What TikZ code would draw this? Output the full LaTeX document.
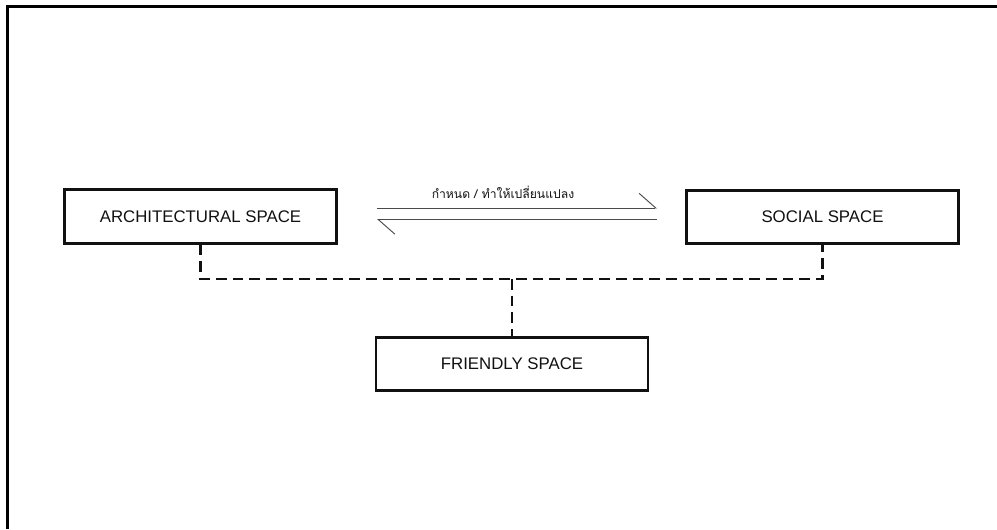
\documentclass[tikz,border=0pt]{standalone}
\usepackage{fontspec}
\setmainfont{Liberation Sans}
\newfontfamily\thaifont[Script=Thai]{Loma}
\usetikzlibrary{arrows.meta,positioning}
\definecolor{ink}{HTML}{111111}
\definecolor{inksoft}{HTML}{4A4A4A}

\begin{document}
\begin{tikzpicture}[
    x=0.75pt,y=-0.75pt,
    % --- boxes ---------------------------------------------------------
    spacebox/.style={rectangle,draw=ink,line width=2.2pt,fill=white,
                     minimum width=204pt,minimum height=40pt,inner sep=0pt,
                     font=\fontsize{12.6}{14}\selectfont,text=ink},
    % --- connectors ----------------------------------------------------
    link/.style={draw=ink,line width=2.2pt,dash pattern=on 8pt off 4.5pt},
    flow/.style={draw=inksoft,line width=0.7pt,
                 -{Straight Barb[left,length=12.5pt,width=22pt,line width=0.7pt]}},
    frame/.style={draw=black,line width=2.4pt},
  ]

\useasboundingbox (0,0) rectangle (997,529);

% =====================================================================
%  Frame (top and left only)
% =====================================================================
\draw[frame] (7.5,529) -- (7.5,6.5) -- (997,6.5);

% =====================================================================
%  Space boxes
% =====================================================================
\node[spacebox] (arch) at (200.5,216.5) {ARCHITECTURAL SPACE};
\node[spacebox] (social) at (822.5,217) {SOCIAL SPACE};
\node[spacebox] (friendly) at (512,364) {FRIENDLY SPACE};

% ---- two-way relation -----------------------------------------------
\coordinate (fwdA) at (377,208);
\coordinate (fwdB) at (657,208);
\coordinate (bwdA) at (657,219.5);
\coordinate (bwdB) at (377,219.5);
\draw[flow] (fwdA) -- (fwdB);
\draw[flow] (bwdA) -- (bwdB);
\node[font=\thaifont\fontsize{9.1}{11}\selectfont,text=ink] (rel) at (503,192)
     {กำหนด / ทำให้เปลี่ยนแปลง};

% ---- dashed links to friendly space ---------------------------------
\coordinate (junc) at (512,279);
\draw[link] (arch.south) |- (junc) -| (social.south);
\draw[link] (junc) -- (friendly.north);

\end{tikzpicture}
\end{document}
